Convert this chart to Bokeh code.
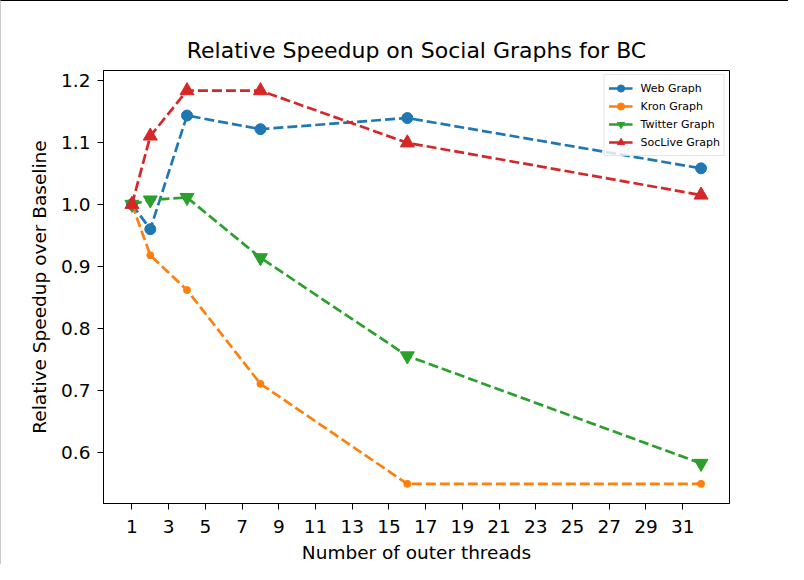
from bokeh.plotting import figure
from bokeh.models import FixedTicker, Range1d, Legend, PrintfTickFormatter
from bokeh.embed import file_html
from bokeh.resources import INLINE

threads = [1, 2, 4, 8, 16, 32]
web = [1.0, 0.960, 1.143, 1.121, 1.139, 1.058]
kron = [1.0, 0.918, 0.862, 0.711, 0.55, 0.55]
twitter = [1.0, 1.007, 1.011, 0.914, 0.756, 0.583]
soclive = [1.0, 1.110, 1.183, 1.183, 1.099, 1.015]
x_ticks = list(range(1, 32, 2))
y_ticks = [0.6, 0.7, 0.8, 0.9, 1.0, 1.1, 1.2]

FONT = "DejaVu Sans"

p = figure(width=788, height=564, output_backend="svg", toolbar_location=None,
           x_range=Range1d(-0.55, 33.55), y_range=Range1d(0.5184, 1.2155),
           min_border_left=102, min_border_right=60, min_border_top=69, min_border_bottom=60,
           title="Relative Speedup on Social Graphs for BC")
p.styles = {"border-top": "1px solid black", "border-left": "1px solid #c8c8c8"}

p.title.text_font = FONT
p.title.text_font_size = "22px"
p.title.text_font_style = "normal"
p.title.text_color = "black"
p.title.align = "center"
p.title.standoff = 15

p.xgrid.visible = False
p.ygrid.visible = False
p.outline_line_color = "black"
p.outline_line_width = 1
p.outline_line_alpha = 1

p.xaxis.ticker = FixedTicker(ticks=x_ticks)
p.yaxis.ticker = FixedTicker(ticks=y_ticks)
p.yaxis.formatter = PrintfTickFormatter(format="%.1f")
p.xaxis.axis_label = "Number of outer threads"
p.yaxis.axis_label = "Relative Speedup over Baseline"
for ax in (p.xaxis, p.yaxis):
    ax.axis_label_text_font = FONT
    ax.axis_label_text_font_size = "18.5px"
    ax.axis_label_text_font_style = "normal"
    ax.axis_label_text_color = "black"
    ax.major_label_text_font = FONT
    ax.major_label_text_font_size = "18.5px"
    ax.major_label_text_color = "black"
    ax.axis_line_color = "black"
    ax.major_tick_line_color = "black"
    ax.major_tick_out = 6
    ax.major_tick_in = 0
    ax.minor_tick_line_color = None
p.xaxis.major_label_standoff = 10
p.xaxis.axis_label_standoff = 6
p.yaxis.major_label_standoff = 7
p.yaxis.axis_label_standoff = 8

dash = "10 4"
lw = 2.7
series = [
    ("Web Graph", web, "#1f77b4", "circle", 11),
    ("Kron Graph", kron, "#ff7f0e", "circle", 7),
    ("Twitter Graph", twitter, "#2ca02c", "inverted_triangle", 14),
    ("SocLive Graph", soclive, "#d62728", "triangle", 14),
]
items = []
for label, ys, color, marker, size in series:
    l = p.line(threads, ys, line_color=color, line_width=lw, line_dash=dash)
    s = p.scatter(threads, ys, marker=marker, size=size, fill_color=color, line_color=color)
    items.append((label, [l, s]))

legend = Legend(items=items, location="top_right")
legend.label_text_font = FONT
legend.label_text_font_size = "11px"
legend.label_text_color = "black"
legend.glyph_height = 18
legend.glyph_width = 24
legend.label_height = 18
legend.spacing = 0
legend.padding = 4
legend.margin = 4
legend.label_standoff = 8
legend.border_line_color = "#cccccc"
legend.border_line_width = 1
legend.background_fill_alpha = 0.8
p.add_layout(legend)

open("out.html", "w").write(file_html(p, INLINE))
